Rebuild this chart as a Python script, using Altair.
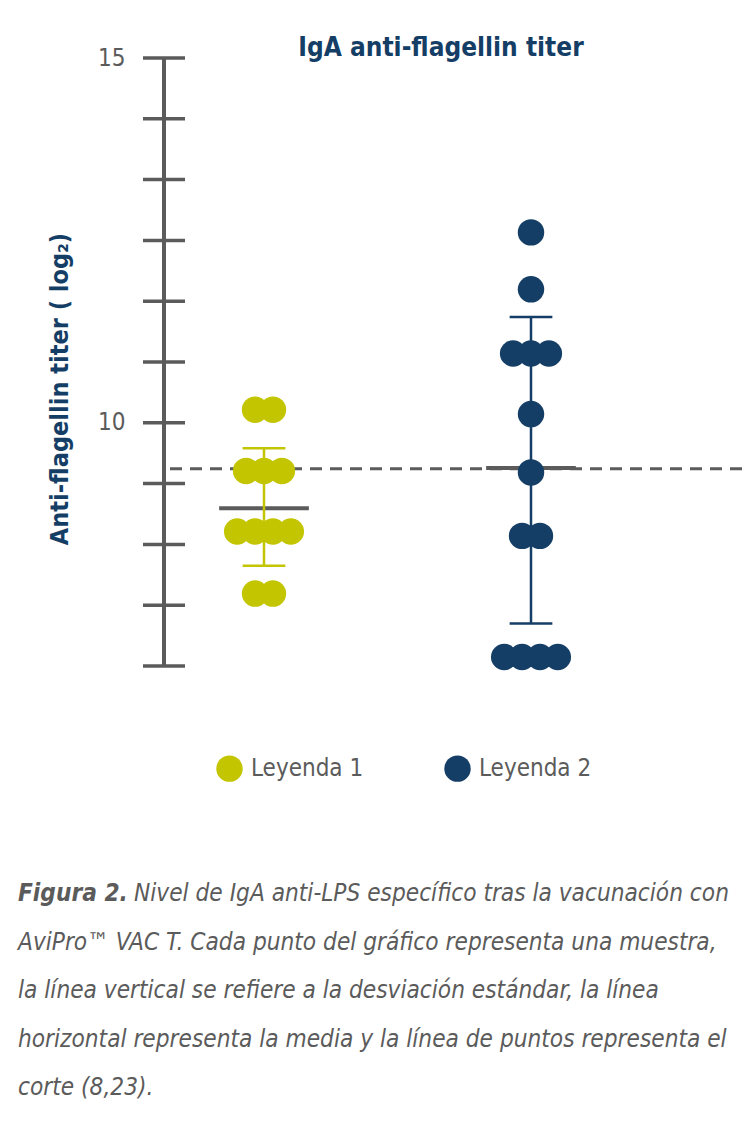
import altair as alt
import pandas as pd

# ---------------- data ----------------
GROUPS = ["Leyenda 1", "Leyenda 2"]
COLORS = ["#c3c500", "#153e66"]
G1_VALUES = [10.18, 10.18, 9.34, 9.34, 9.34, 8.51, 8.51, 8.51, 8.51, 7.66, 7.66]
G2_VALUES = [12.61, 11.83, 10.95, 10.95, 10.95, 10.12, 9.32, 8.45, 8.45,
             6.79, 6.79, 6.79, 6.79]
MEANS = [8.83, 9.38]
SD_LOW = [8.04, 7.25]
SD_HIGH = [9.65, 11.45]
CUTOFF = [9.37]
Y_DOMAIN = [6.6667, 15]
TICKS = [6.6667, 7.5, 8.3333, 9.1667, 10, 10.8333, 11.6667, 12.5, 13.3333, 14.1667, 15]
LABELLED_TICKS = [10, 15]

TITLE = "IgA anti-flagellin titer"
Y_TITLE = "Anti-flagellin titer ( log\u2082)"
CAPTION_BOLD = "Figura 2."
CAPTION_FIRST = "Nivel de IgA anti-LPS específico tras la vacunación con"
CAPTION_REST = [
    "AviPro™ VAC T. Cada punto del gráfico representa una muestra,",
    "la línea vertical se refiere a la desviación estándar, la línea",
    "horizontal representa la media y la línea de puntos representa el",
    "corte (8,23).",
]

# ---------------- style ----------------
FONT = "DejaVu Sans Condensed"
GRAY = "#5b5b5b"
BLUE = "#153e66"
SLOT = 0.067  # horizontal spread between stacked points (in group units)

# build point table: stack equal values side by side
rows = []
for gi, vals in enumerate([G1_VALUES, G2_VALUES]):
    counts = {}
    for v in vals:
        counts[v] = counts.get(v, 0) + 1
    seen = {}
    for v in vals:
        k = seen.get(v, 0)
        seen[v] = k + 1
        n = counts[v]
        rows.append({"group": GROUPS[gi], "x": gi + (k - (n - 1) / 2) * SLOT, "y": v})
points = pd.DataFrame(rows)

stats = pd.DataFrame({
    "group": GROUPS,
    "gx": [0, 1],
    "mean": MEANS,
    "lo": SD_LOW,
    "hi": SD_HIGH,
})
stats["mx1"] = stats["gx"] - 0.168
stats["mx2"] = stats["gx"] + 0.168
stats["cx1"] = stats["gx"] - 0.08
stats["cx2"] = stats["gx"] + 0.08

xscale = alt.Scale(domain=[0, 1], range=[256, 523])
yscale = alt.Scale(domain=Y_DOMAIN, range=[658, 50])

one = pd.DataFrame({"d": [0]})

yaxis = alt.Axis(
    values=LABELLED_TICKS, orient="left", offset=-177, ticks=False, tickSize=0,
    domain=False, grid=False, title=None, format="d", labelOverlap=False,
    labelFont=FONT, labelFontSize=24, labelColor=GRAY, labelPadding=60,
)

# axis line
axis_line = alt.Chart(pd.DataFrame({"a": [Y_DOMAIN[0]], "b": [Y_DOMAIN[1]]})).mark_rule(
    color=GRAY, strokeWidth=4
).encode(
    x=alt.value(156),
    y=alt.Y("a:Q", scale=yscale, axis=yaxis),
    y2="b:Q",
)

ticks = alt.Chart(pd.DataFrame({"t": TICKS})).mark_rule(
    color=GRAY, strokeWidth=3.5
).encode(
    x=alt.value(135), x2=alt.value(177),
    y=alt.Y("t:Q", scale=yscale),
)

cut = alt.Chart(pd.DataFrame({"c": CUTOFF})).mark_rule(
    color=GRAY, strokeWidth=3, strokeDash=[12, 8]
).encode(
    x=alt.value(162), x2=alt.value(734),
    y=alt.Y("c:Q", scale=yscale),
)

mean_rule = alt.Chart(stats).mark_rule(color=GRAY, strokeWidth=4).encode(
    x=alt.X("mx1:Q", scale=xscale, axis=None),
    x2="mx2:Q",
    y=alt.Y("mean:Q", scale=yscale),
)

color = alt.Color(
    "group:N",
    scale=alt.Scale(domain=GROUPS, range=COLORS),
    legend=alt.Legend(
        orient="none", legendX=208, legendY=747, direction="horizontal",
        title=None, symbolType="circle", symbolSize=700, symbolStrokeWidth=0,
        labelFont=FONT, labelFontSize=24, labelColor=GRAY, labelOffset=8,
        columnPadding=80, padding=0, symbolOffset=0,
    ),
)

pts = alt.Chart(points).mark_point(filled=True, size=700, opacity=1).encode(
    x=alt.X("x:Q", scale=xscale, axis=None),
    y=alt.Y("y:Q", scale=yscale),
    color=color,
)

sd_color = alt.Color("group:N", scale=alt.Scale(domain=GROUPS, range=COLORS), legend=None)
sd_v = alt.Chart(stats).mark_rule(strokeWidth=2.5).encode(
    x=alt.X("gx:Q", scale=xscale),
    y=alt.Y("lo:Q", scale=yscale),
    y2="hi:Q",
    color=sd_color,
)
sd_lo = alt.Chart(stats).mark_rule(strokeWidth=2.5).encode(
    x=alt.X("cx1:Q", scale=xscale), x2="cx2:Q",
    y=alt.Y("lo:Q", scale=yscale),
    color=sd_color,
)
sd_hi = alt.Chart(stats).mark_rule(strokeWidth=2.5).encode(
    x=alt.X("cx1:Q", scale=xscale), x2="cx2:Q",
    y=alt.Y("hi:Q", scale=yscale),
    color=sd_color,
)

title = alt.Chart(one).mark_text(
    font=FONT, fontSize=26, fontWeight="bold", color=BLUE, align="center",
    baseline="alphabetic",
).encode(x=alt.value(433), y=alt.value(48), text=alt.value(TITLE))

ytitle = alt.Chart(one).mark_text(
    font=FONT, fontSize=25, fontWeight="bold", color=BLUE, align="center",
    baseline="middle", angle=270,
).encode(x=alt.value(52), y=alt.value(381), text=alt.value(Y_TITLE))

CAP_SIZE = 24.2
cap_bold = alt.Chart(one).mark_text(
    font=FONT, fontSize=CAP_SIZE, fontWeight="bold", fontStyle="italic", color=GRAY,
    align="left", baseline="alphabetic",
).encode(x=alt.value(10), y=alt.value(893), text=alt.value(CAPTION_BOLD))

cap_first = alt.Chart(one).mark_text(
    font=FONT, fontSize=CAP_SIZE, fontStyle="italic", color=GRAY,
    align="left", baseline="alphabetic",
).encode(x=alt.value(126), y=alt.value(893), text=alt.value(CAPTION_FIRST))

cap_rest = alt.Chart(one).mark_text(
    font=FONT, fontSize=CAP_SIZE, fontStyle="italic", color=GRAY,
    align="left", baseline="alphabetic", lineHeight=48.5,
).encode(x=alt.value(10), y=alt.value(941.5), text=alt.value(CAPTION_REST))

chart = alt.layer(
    axis_line, ticks, cut, mean_rule, pts, sd_v, sd_lo, sd_hi,
    title, ytitle, cap_bold, cap_first, cap_rest,
).properties(
    width=738, height=1116, autosize="none", padding=0, background="white",
).configure_view(stroke=None)

chart.save("out.html", embed_options={"renderer": "svg", "actions": False})
